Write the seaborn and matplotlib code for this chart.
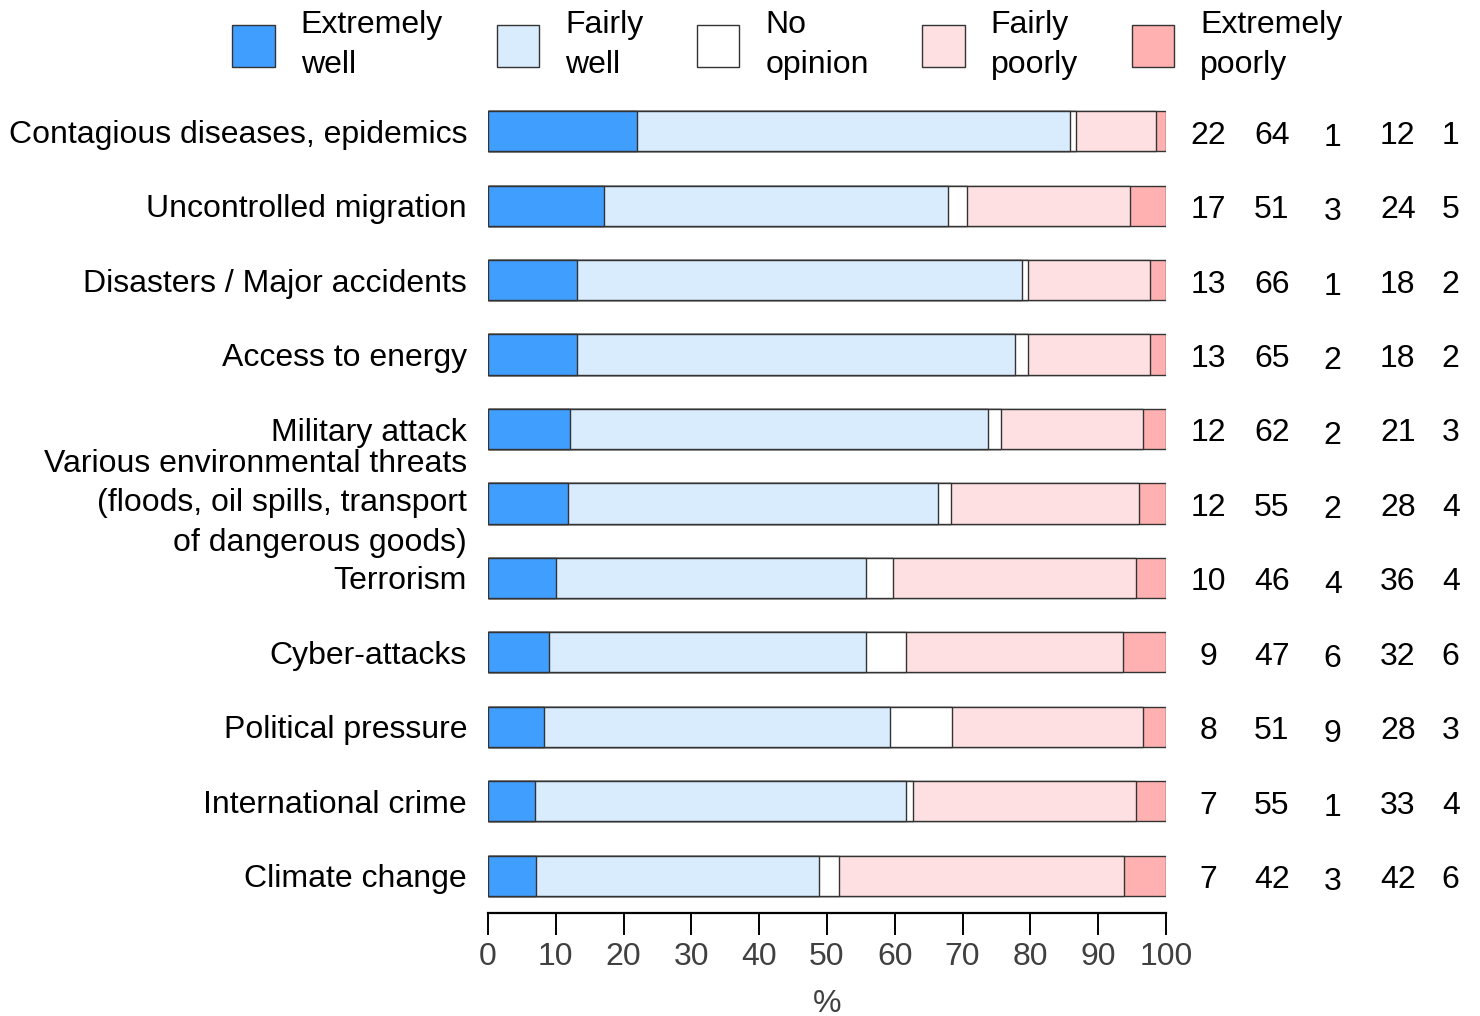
# Survey: how well is the country prepared for each threat (stacked %)
import numpy as np
import pandas as pd
import matplotlib
matplotlib.use("Agg")
import matplotlib.pyplot as plt
import seaborn as sns
from matplotlib.patches import Patch

# ------------------- Data -------------------
topics = [
    "Contagious diseases, epidemics",
    "Uncontrolled migration",
    "Disasters / Major accidents",
    "Access to energy",
    "Military attack",
    "Various environmental threats\n(floods, oil spills, transport\nof dangerous goods)",
    "Terrorism",
    "Cyber-attacks",
    "Political pressure",
    "International crime",
    "Climate change",
]

categories = ["Extremely\nwell", "Fairly\nwell", "No\nopinion", "Fairly\npoorly", "Extremely\npoorly"]

extremely_well = [22.0, 17.1, 13.1, 13.1, 12.1, 11.8, 10.0, 9.0, 8.3, 7.0, 7.1]
fairly_well = [63.8, 50.7, 65.6, 64.6, 61.6, 54.6, 45.8, 46.8, 51.0, 54.7, 41.8]
no_opinion = [0.9, 2.9, 1.0, 2.0, 2.0, 1.9, 4.0, 5.9, 9.1, 1.0, 2.9]
fairly_poorly = [11.9, 24.0, 17.9, 17.9, 20.9, 27.7, 35.8, 31.9, 28.2, 32.9, 42.0]
extremely_poorly = [1.4, 5.3, 2.4, 2.4, 3.4, 4.0, 4.4, 6.4, 3.4, 4.4, 6.2]

colors = ["#409EFF", "#D8ECFD", "#FFFFFF", "#FFE0E2", "#FFB1B1"]

df = pd.DataFrame({
    "Topic": topics,
    categories[0]: extremely_well,
    categories[1]: fairly_well,
    categories[2]: no_opinion,
    categories[3]: fairly_poorly,
    categories[4]: extremely_poorly,
})

# cumulative sums for stacked bars
cum = df[categories].cumsum(axis=1)

# ------------------- Style -------------------
sns.set_style("white")
plt.rcParams["font.family"] = ["Liberation Sans", "DejaVu Sans"]
plt.rcParams["text.color"] = "black"
FS = 23
LS = 1.42
edge = "#333333"

fig = plt.figure(figsize=(14.8, 10.16), dpi=100)
ax = fig.add_axes([0.3297, 0.1014, 0.4581, 0.8061])

# draw from the last (longest) cumulative segment to the first
for cat, col in reversed(list(zip(categories, colors))):
    sns.barplot(x=cum[cat], y=df["Topic"], orient="h", color=col,
                saturation=1, width=0.54, edgecolor=edge, linewidth=1.0, ax=ax)

ax.set_xlim(0, 100)
ax.set_ylim(10.5, -0.5)
ax.set_xticks(range(0, 101, 10))
ax.set_xlabel("%", fontsize=FS, color="#404040", labelpad=12)
ax.set_ylabel("")

for s in ["top", "right", "left"]:
    ax.spines[s].set_visible(False)
ax.spines["bottom"].set_linewidth(1.6)
ax.spines["bottom"].set_color("black")

ax.tick_params(axis="x", direction="out", length=16, width=1.4, color="black",
               labelsize=FS, labelcolor="#404040", pad=5, bottom=True)
ax.tick_params(axis="y", length=0, labelsize=FS, labelcolor="black", pad=15)
for lab in ax.get_yticklabels():
    lab.set_linespacing(LS)
    # the three-line label sits centred on its bar
    if "\n" in lab.get_text():
        lab.set_verticalalignment("center")

# ------------------- Value columns on the right -------------------
col_x = [106.3, 115.6, 124.6, 134.2, 142.0]
for j, cat in enumerate(categories):
    for i, v in enumerate(df[cat]):
        dy = 0.06 + (0.03 if j == 2 else 0.0)
        ax.text(col_x[j], i + dy, f"{v:.0f}", ha="center", va="center",
                fontsize=FS, color="black", clip_on=False)

# ------------------- Legend -------------------
handles = [Patch(facecolor=c, edgecolor=edge, linewidth=1.0) for c in colors]
leg = fig.legend(handles, categories, loc="upper center", bbox_to_anchor=(0.532, 1.009),
                 ncol=5, frameon=False, fontsize=FS, handlelength=1.32, handleheight=1.64,
                 handletextpad=0.82, columnspacing=1.68, borderaxespad=0.2)
for t in leg.get_texts():
    t.set_linespacing(LS)
    t.set_color("black")

fig.savefig("out.png", dpi=100)
